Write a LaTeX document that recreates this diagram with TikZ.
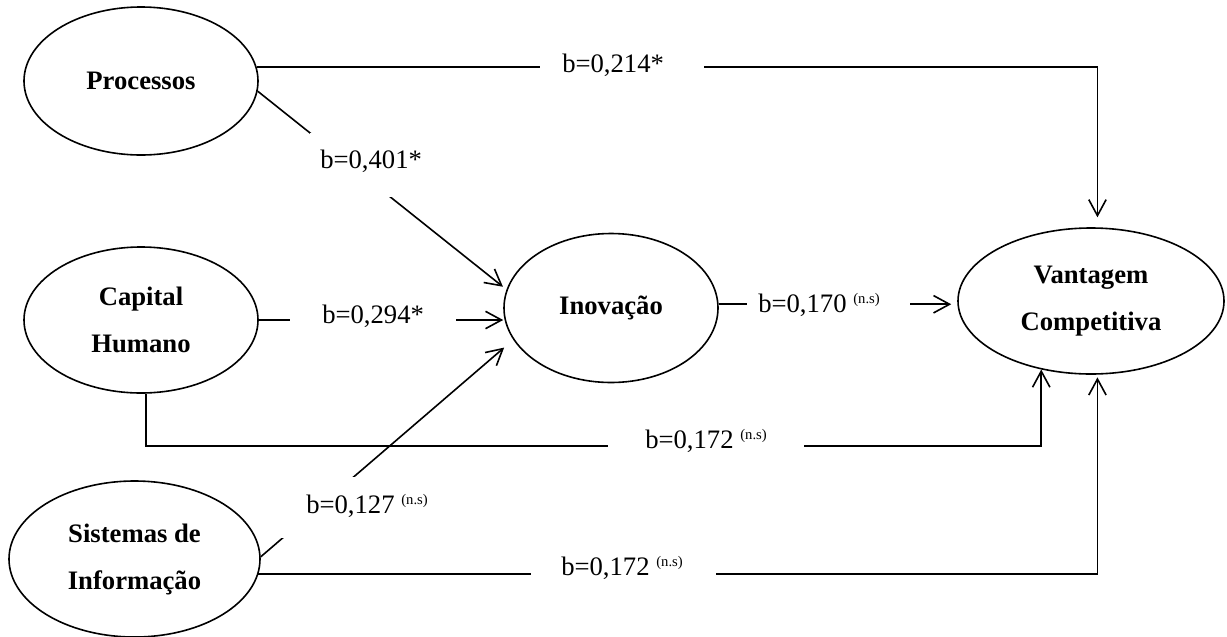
\documentclass[tikz,border=0pt]{standalone}
\usepackage{fontspec}
\setmainfont{Liberation Serif}
\usetikzlibrary{arrows.meta,shapes.geometric}
\newcommand\nsup{\raisebox{6.5pt}{\fontsize{11}{13}\selectfont(n.s)}}
\newcommand\lst[2]{\rule[-#2]{0pt}{\dimexpr #1+#2\relax}}
\begin{document}
\begin{tikzpicture}[x=0.75pt,y=-0.75pt,
  var/.style={draw, ellipse, line width=1.2pt, inner sep=0pt, align=center,
    font=\fontsize{20}{35.25}\selectfont\bfseries},
  conn/.style={line width=1.2pt},
  arr/.style={conn, -{Straight Barb[length=12pt,width=13pt]}},
  lbl/.style={fill=white, inner sep=0pt, anchor=base west,
    font=\fontsize{20}{24}\selectfont}]
\useasboundingbox (0,0) rectangle (1227,636);
% variables
\node[var, minimum width=175.5pt, minimum height=111pt] (proc) at (141,81) {Processos};
\node[var, minimum width=175.5pt, minimum height=109.5pt] (cap) at (141,320) {Capital\\Humano};
\node[var, minimum width=188.25pt, minimum height=117pt] (sis) at (134.5,559) {Sistemas de\\Informação};
\node[var, minimum width=160.5pt, minimum height=111.75pt] (inov) at (611,308) {Inovação};
\node[var, minimum width=199.5pt, minimum height=109.5pt] (vant) at (1091,301) {Vantagem\\Competitiva};
% connectors
\draw[arr, shorten >=7.5pt] (proc.7) -| (vant.85.3);
\draw[arr, shorten >=3.4pt] (proc.-5) -- (inov.170.7);
\draw[arr] (cap.east) -- (cap.east -| inov.west);
\draw[arr, shorten >=4.5pt] (inov.2) -- (inov.2 -| vant.west);
\draw[arr] (cap.-86) -- ++(0,52) -| (vant.234.8);
\draw[arr, shorten >=9pt] (sis.1) -- (inov.198.3);
\draw[arr, shorten >=2pt] (sis.-7.3) -| (vant.-85.3);
% labels
\node[lbl] (l1) at (540,72) {\hspace*{16.5pt}b=0,214*\hspace*{30pt}\lst{18pt}{6pt}};
\node[lbl] (l2) at (310,168) {\hspace*{7.5pt}b=0,401*\lst{26.25pt}{21.75pt}};
\node[lbl] (l3) at (290,323) {\hspace*{24pt}b=0,294*\hspace*{24pt}\lst{18pt}{6pt}};
\node[lbl] (l4) at (747,312) {\hspace*{8.25pt}b=0,170\ \nsup\hspace*{22.5pt}\lst{18pt}{6pt}};
\node[lbl] (l5) at (608,448) {\hspace*{27.75pt}b=0,172\ \nsup\hspace*{27.75pt}\lst{18pt}{6pt}};
\node[lbl] (l6) at (281,513) {\hspace*{18.75pt}b=0,127\ \nsup\lst{27pt}{18.75pt}};
\node[lbl] (l7) at (531,575) {\hspace*{22.5pt}b=0,172\ \nsup\hspace*{24.75pt}\lst{18pt}{6pt}};
\end{tikzpicture}
\end{document}
